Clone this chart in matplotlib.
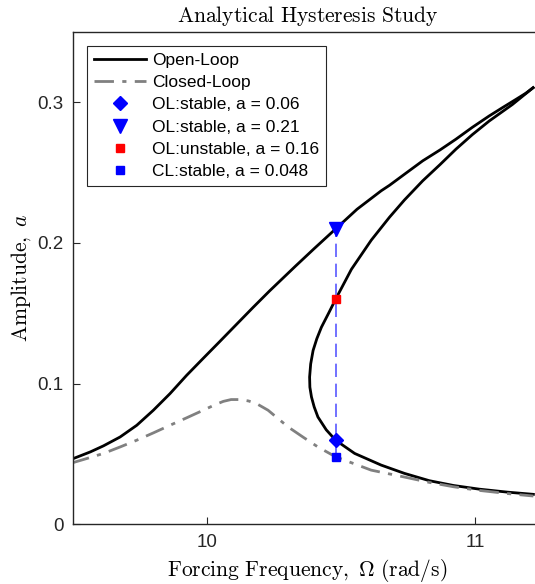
import matplotlib
matplotlib.use("Agg")

import numpy as np
import matplotlib.pyplot as plt

plt.rcParams["mathtext.fontset"] = "cm"
plt.rcParams["font.family"] = ["Liberation Sans", "DejaVu Sans"]

# Open-loop response, upper (resonant) branch
ol_upper_w = [9.502, 9.565, 9.614, 9.676, 9.738, 9.800, 9.862, 9.924, 9.986,
              10.048, 10.111, 10.172, 10.234, 10.33, 10.40, 10.48, 10.56,
              10.65, 10.681, 10.745, 10.805, 10.87, 10.929, 10.99, 11.053,
              11.105, 11.153, 11.19, 11.217]
ol_upper_a = [0.0468, 0.0515, 0.0558, 0.0621, 0.0704, 0.0811, 0.0929, 0.1059,
              0.1180, 0.1300, 0.1423, 0.1542, 0.1660, 0.1835, 0.1960, 0.2100,
              0.2240, 0.2371, 0.2410, 0.2500, 0.2584, 0.2662, 0.2738, 0.2822,
              0.2903, 0.2965, 0.3021, 0.3065, 0.3104]

# Open-loop response, unstable + lower branch (from the peak back down)
ol_lower_w = [11.217, 11.14, 11.053, 10.99, 10.929, 10.87, 10.805, 10.737,
              10.681, 10.613, 10.539, 10.48, 10.455, 10.427, 10.41, 10.396,
              10.387, 10.383, 10.384, 10.390, 10.40, 10.414, 10.445, 10.48,
              10.551, 10.650, 10.737, 10.83, 10.92, 11.016, 11.12, 11.218]
ol_lower_a = [0.3104, 0.2985, 0.2867, 0.2770, 0.2667, 0.2558, 0.2442, 0.2306,
              0.2183, 0.2020, 0.1813, 0.1600, 0.1505, 0.1401, 0.1320, 0.1236,
              0.1140, 0.1047, 0.0975, 0.0905, 0.0835, 0.0763, 0.0672, 0.0598,
              0.0504, 0.0421, 0.0362, 0.0310, 0.0276, 0.0250, 0.0229, 0.0213]

# Closed-loop response
cl_w = [9.49, 9.552, 9.614, 9.676, 9.738, 9.80, 9.862, 9.924, 9.986, 10.03,
        10.061, 10.09, 10.123, 10.155, 10.185, 10.228, 10.303, 10.36, 10.414,
        10.48, 10.613, 10.737, 10.83, 10.92, 11.016, 11.12, 11.218]
cl_a = [0.0433, 0.0468, 0.0504, 0.0550, 0.0598, 0.0650, 0.0704, 0.0757,
        0.0811, 0.0850, 0.0874, 0.0887, 0.0887, 0.0877, 0.0858, 0.0811,
        0.0692, 0.0618, 0.0550, 0.0480, 0.0385, 0.0336, 0.0298, 0.0267,
        0.0241, 0.0219, 0.0201]

# Operating frequency and solution amplitudes there
w_op = 10.48
a_ol_low = 0.06
a_ol_high = 0.21
a_ol_unst = 0.16
a_cl = 0.048

fig = plt.figure(figsize=(5.35, 5.84), dpi=100)
ax = fig.add_axes([0.1364, 0.1022, 0.8766, 0.843])

ax.plot(ol_upper_w, ol_upper_a, color="black", lw=2, label="Open-Loop")
ax.plot(ol_lower_w, ol_lower_a, color="black", lw=2)
ax.plot(cl_w, cl_a, color=(0.5, 0.5, 0.5), lw=2, ls=(0, (7, 3, 1.5, 3)),
        label="Closed-Loop")

# vertical guide joining the coexisting solutions at the operating point
ax.plot([w_op, w_op], [a_cl, a_ol_high], color=(0.35, 0.35, 1.0), lw=1.2,
        ls=(0, (8, 4)))

ax.plot(w_op, a_ol_low, ls="none", marker="D", ms=7, color="blue",
        label=f"OL:stable, a = {a_ol_low}")
ax.plot(w_op, a_ol_high, ls="none", marker="v", ms=10, color="blue",
        label=f"OL:stable, a = {a_ol_high}")
ax.plot(w_op, a_ol_unst, ls="none", marker="s", ms=6, color="red",
        label=f"OL:unstable, a = {a_ol_unst}")
ax.plot(w_op, a_cl, ls="none", marker="s", ms=6, color="blue",
        label=f"CL:stable, a = {a_cl}")

ax.set_xlim(9.5, 11.25)
ax.set_ylim(0, 0.35)
ax.set_xticks([10, 11])
ax.set_yticks([0, 0.1, 0.2, 0.3])
ax.set_yticklabels(["0", "0.1", "0.2", "0.3"])

dark = (0.15, 0.15, 0.15)
for s in ax.spines.values():
    s.set_color(dark)
    s.set_linewidth(1.0)
ax.tick_params(direction="in", length=5, width=0.8, colors=dark,
               labelsize=13.5, pad=7)

ax.set_title(r"$\mathrm{Analytical\ Hysteresis\ Study}$", fontsize=15.5,
             color="black", pad=7)
ax.set_xlabel(r"$\mathrm{Forcing\ Frequency,}\ \Omega\ \mathrm{(rad/s)}$",
              fontsize=15.5, labelpad=4)
ax.set_ylabel(r"$\mathrm{Amplitude,}\ a$", fontsize=15.5, labelpad=3)

leg = ax.legend(loc="upper left", fontsize=12.5, frameon=True, fancybox=False,
                edgecolor=dark, framealpha=1, borderpad=0.4,
                handlelength=3.0, labelspacing=0.41, handletextpad=0.35,
                bbox_to_anchor=(0.03, 0.972, 0, 0), borderaxespad=0)
leg.get_frame().set_linewidth(0.8)

fig.savefig("out.png", dpi=100)
